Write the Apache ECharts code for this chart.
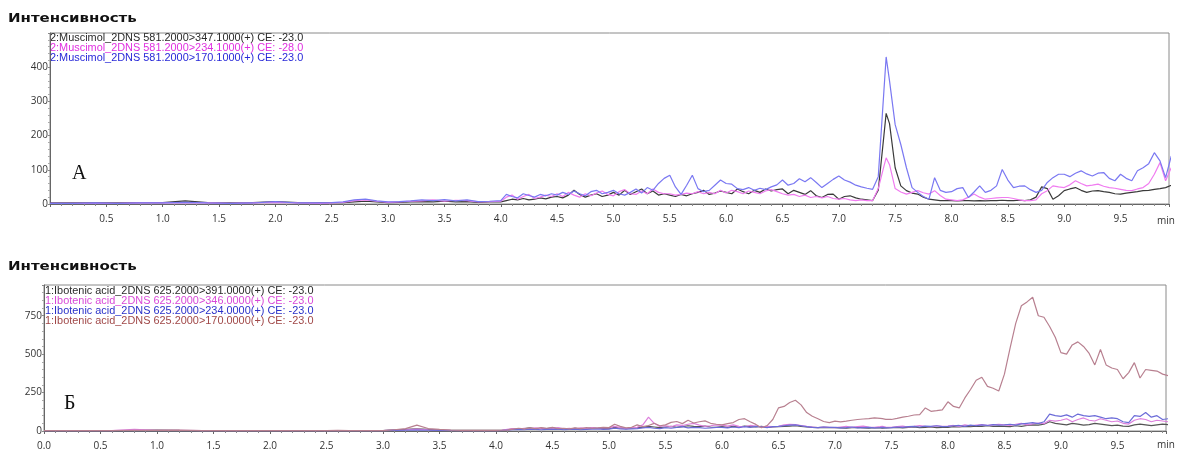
<!DOCTYPE html>
<html>
<head>
<meta charset="utf-8">
<script src="https://cdn.jsdelivr.net/npm/echarts@6/dist/echarts.min.js"></script>
<style>
  html, body { margin: 0; padding: 0; background: #fff; }
  #chart { width: 1183px; height: 452px; }
</style>
</head>
<body>
<div id="chart"></div>
<script>
// retention time, min
const times = [
  0, 0.2, 0.4, 0.6, 0.8, 1.0, 1.2, 1.4, 1.6, 1.8, 2.0, 2.2, 2.4,
  2.5, 2.6, 2.7, 2.8, 2.9, 3.0, 3.1, 3.2, 3.3, 3.4, 3.5, 3.6, 3.7, 3.8, 3.9,
  4.00, 4.05, 4.10, 4.15, 4.20, 4.25, 4.30, 4.35, 4.40, 4.45,
  4.50, 4.55, 4.60, 4.65, 4.70, 4.75, 4.80, 4.85, 4.90, 4.95,
  5.00, 5.05, 5.10, 5.15, 5.20, 5.25, 5.30, 5.35, 5.40, 5.45,
  5.50, 5.55, 5.60, 5.65, 5.70, 5.75, 5.80, 5.85, 5.90, 5.95,
  6.00, 6.05, 6.10, 6.15, 6.20, 6.25, 6.30, 6.35, 6.40, 6.45,
  6.50, 6.55, 6.60, 6.65, 6.70, 6.75, 6.80, 6.85, 6.90, 6.95,
  7.00, 7.05, 7.10, 7.15, 7.20, 7.25, 7.30, 7.35, 7.40, 7.42, 7.45,
  7.50, 7.55, 7.60, 7.65, 7.70, 7.75, 7.80, 7.85, 7.90, 7.95,
  8.00, 8.05, 8.10, 8.15, 8.20, 8.25, 8.30, 8.35, 8.40, 8.45,
  8.50, 8.55, 8.60, 8.65, 8.70, 8.75, 8.80, 8.85, 8.90, 8.95,
  9.00, 9.05, 9.10, 9.15, 9.20, 9.25, 9.30, 9.35, 9.40, 9.45,
  9.50, 9.55, 9.60, 9.65, 9.70, 9.75, 9.80, 9.85, 9.90, 9.95,
  10.00
];

// A: Muscimol_2DNS 581.2
const mus347 = [
  3, 3, 3, 3, 4, 4, 9, 4, 3, 4, 7, 4, 3,
  4, 4, 6, 8, 6, 4, 5, 6, 7, 6, 8, 6, 7, 5, 6,
  6, 10, 14, 12, 16, 12, 14, 18, 15, 20,
  22, 18, 26, 40, 28, 20, 26, 30, 22, 26,
  34, 26, 40, 28, 36, 44, 30, 38, 26, 30,
  26, 22, 28, 24, 30, 34, 40, 28, 32, 38,
  34, 30, 44, 36, 30, 40, 34, 44, 38, 42,
  44, 30, 40, 34, 28, 39, 24, 19, 28, 29,
  14, 22, 24, 18, 14, 12, 10, 40, 200, 265, 235,
  106, 53, 39, 32, 29, 20, 14, 12, 10, 10,
  10, 9, 10, 10, 9, 10, 9, 10, 10, 11,
  10, 10, 11, 10, 12, 20, 50, 45, 14, 24,
  39, 44, 48, 40, 34, 38, 39, 36, 34, 30,
  29, 32, 34, 36, 39, 40, 43, 45, 48, 55,
  68
];
const mus234 = [
  2, 2, 2, 2, 3, 3, 4, 3, 2, 3, 5, 3, 2,
  3, 5, 10, 12, 8, 5, 6, 8, 9, 12, 8, 11, 10, 6, 7,
  8, 20, 26, 14, 22, 28, 16, 20, 26, 22,
  30, 22, 34, 26, 20, 30, 24, 32, 38, 28,
  24, 36, 42, 30, 28, 38, 30, 44, 34, 30,
  30, 26, 28, 32, 30, 36, 30, 34, 30, 40,
  32, 40, 36, 30, 38, 34, 30, 38, 42, 36,
  30, 26, 28, 22, 26, 19, 22, 18, 22, 16,
  14, 16, 12, 10, 12, 10, 10, 45, 110, 135, 115,
  45, 35, 29, 34, 39, 33, 29, 39, 25, 14,
  12, 10, 12, 20, 29, 20, 14, 16, 18, 19,
  19, 16, 12, 10, 10, 12, 30, 39, 53, 50,
  48, 56, 68, 60, 53, 55, 58, 52, 48, 46,
  43, 40, 39, 44, 48, 60, 87, 121, 68, 106,
  77
];
const mus170 = [
  2, 2, 3, 2, 3, 3, 5, 3, 2, 3, 7, 3, 3,
  4, 6, 12, 14, 9, 6, 7, 9, 12, 10, 13, 9, 12, 7, 8,
  10, 28, 22, 18, 30, 25, 20, 28, 24, 30,
  26, 34, 28, 38, 30, 24, 36, 40, 30, 34,
  40, 30, 26, 34, 44, 32, 48, 40, 60, 75,
  84, 50, 28, 55, 84, 45, 36, 40, 55, 70,
  60, 58, 45, 42, 48, 40, 46, 42, 50, 56,
  70, 55, 60, 74, 65, 77, 63, 48, 60, 72,
  82, 70, 64, 55, 50, 46, 43, 80, 330, 430, 360,
  232, 174, 106, 48, 34, 22, 14, 77, 40, 34,
  36, 45, 48, 19, 35, 53, 34, 40, 53, 101,
  70, 48, 52, 53, 42, 34, 40, 63, 77, 87,
  87, 80, 90, 97, 88, 82, 90, 92, 75, 68,
  87, 75, 68, 97, 106, 118, 150, 126, 77, 140,
  140
];

// Б: Ibotenic acid_2DNS 625.2
const ibo391 = [
  3, 3, 3, 3, 4, 6, 4, 3, 3, 3, 3, 3, 3,
  3, 3, 3, 3, 3, 3, 8, 10, 14, 10, 6, 5, 4, 4, 4,
  4, 4, 8, 14, 10, 16, 20, 14, 18, 16,
  20, 14, 16, 12, 18, 14, 16, 20, 18, 16,
  16, 24, 20, 16, 18, 22, 24, 30, 26, 22,
  26, 30, 24, 28, 34, 30, 28, 32, 26, 24,
  28, 24, 30, 26, 32, 28, 26, 30, 24, 26,
  28, 30, 32, 34, 30, 26, 24, 22, 24, 22,
  22, 20, 18, 22, 24, 20, 18, 22, 20, 18, 20,
  22, 24, 20, 24, 26, 22, 24, 26, 22, 24,
  24, 28, 26, 30, 28, 32, 30, 34, 30, 32,
  30, 28, 34, 30, 36, 40, 38, 44, 60, 50,
  45, 40, 50, 45, 38, 42, 50, 45, 40, 35,
  38, 32, 30, 40, 45, 40, 35, 40, 45, 42,
  40
];
const ibo346 = [
  3, 3, 3, 3, 10, 4, 5, 3, 3, 3, 3, 3, 3,
  3, 3, 3, 3, 3, 3, 6, 8, 12, 8, 6, 4, 3, 3, 3,
  3, 4, 10, 16, 12, 18, 14, 20, 15, 12,
  16, 22, 14, 18, 12, 20, 16, 22, 18, 20,
  20, 30, 22, 16, 20, 24, 40, 90, 50, 30,
  34, 28, 40, 36, 44, 50, 38, 30, 34, 40,
  38, 32, 40, 30, 28, 36, 32, 26, 30, 28,
  30, 40, 44, 42, 36, 30, 26, 22, 26, 24,
  22, 26, 30, 24, 28, 32, 26, 24, 28, 30, 26,
  24, 28, 32, 26, 30, 36, 30, 28, 34, 30,
  32, 36, 30, 40, 34, 38, 42, 36, 40, 44,
  40, 36, 44, 50, 40, 46, 52, 48, 70, 64,
  70, 80, 60, 75, 85, 70, 65, 80, 70, 60,
  65, 50, 45, 70, 80, 75, 60, 70, 65, 60,
  62
];
const ibo234 = [
  2, 2, 2, 2, 3, 3, 3, 2, 2, 2, 2, 2, 2,
  2, 2, 2, 2, 2, 2, 4, 5, 6, 5, 4, 3, 2, 2, 2,
  2, 3, 6, 8, 10, 8, 12, 10, 8, 10,
  10, 12, 8, 10, 12, 8, 10, 12, 14, 10,
  12, 18, 14, 12, 14, 16, 20, 24, 18, 16,
  22, 18, 24, 28, 20, 24, 22, 18, 20, 24,
  24, 20, 26, 22, 28, 24, 30, 26, 22, 28,
  30, 34, 38, 40, 34, 28, 24, 22, 26, 24,
  24, 20, 22, 26, 20, 22, 24, 20, 22, 24, 20,
  22, 26, 24, 28, 30, 26, 32, 30, 34, 28,
  30, 34, 36, 30, 38, 34, 40, 36, 42, 38,
  40, 44, 38, 46, 50, 54, 48, 60, 110, 100,
  95, 105, 90, 110, 100, 95, 100, 90, 80, 85,
  80, 60, 55, 100, 95, 120, 90, 100, 75, 80,
  80
];
const ibo170 = [
  3, 3, 3, 3, 5, 4, 6, 3, 3, 3, 3, 3, 3,
  3, 4, 3, 3, 3, 3, 8, 15, 38, 16, 10, 6, 4, 5, 4,
  4, 5, 6, 12, 18, 14, 20, 16, 22, 18,
  24, 16, 18, 14, 20, 16, 22, 18, 20, 24,
  22, 44, 30, 20, 24, 40, 28, 36, 50, 34,
  40, 56, 62, 48, 70, 52, 60, 66, 50, 44,
  40, 48, 55, 75, 80, 60, 43, 21, 35, 75,
  150, 160, 185, 200, 170, 120, 96, 80, 62, 55,
  64, 60, 64, 70, 75, 78, 80, 85, 82, 80, 76,
  75, 82, 90, 96, 104, 107, 150, 128, 132, 138,
  190, 160, 150, 215, 270, 330, 350, 290, 278, 260,
  370, 540, 700, 815, 840, 870, 750, 740, 680, 610,
  510, 500, 560, 580, 550, 505, 430, 530, 430, 410,
  400, 340, 380, 445, 345, 400, 395, 390, 370, 360,
  360
];

const labelsA = [
  '2:Muscimol_2DNS 581.2000>347.1000(+) CE: -23.0',
  '2:Muscimol_2DNS 581.2000>234.1000(+) CE: -28.0',
  '2:Muscimol_2DNS 581.2000>170.1000(+) CE: -23.0'
];
const labelsB = [
  '1:Ibotenic acid_2DNS 625.2000>391.0000(+) CE: -23.0',
  '1:Ibotenic acid_2DNS 625.2000>346.0000(+) CE: -23.0',
  '1:Ibotenic acid_2DNS 625.2000>234.0000(+) CE: -23.0',
  '1:Ibotenic acid_2DNS 625.2000>170.0000(+) CE: -23.0'
];

const textA = ['#2a2a2a', '#e030e0', '#2828d8'];
const lineA = ['#3a3a3a', '#f07cf0', '#7a78f2'];
const textB = ['#2a2a2a', '#d848d8', '#2a30c8', '#a04848'];
const lineB = ['#555555', '#dd80dd', '#6c6cd8', '#b88090'];

[mus347, mus234, mus170, ibo391, ibo346, ibo234, ibo170].forEach((s, i) => {
  if (s.length !== times.length) console.warn('series ' + i + ' length ' + s.length);
});

const pairs = (vals) => times.map((t, i) => [t, vals[i]]);

const tickFont = 'Open Sans, Liberation Sans, sans-serif';
const legendFont = 'Liberation Sans, Arial, sans-serif';

const makeX = (gi, showMin) => ({
  type: 'value',
  gridIndex: gi,
  min: 0,
  max: 9.93,
  interval: 0.5,
  axisLine: { show: true, onZero: false, lineStyle: { color: '#666', width: 1 } },
  axisTick: { show: true, length: 3, lineStyle: { color: '#666' } },
  minorTick: { show: true, splitNumber: 5, length: 2, lineStyle: { color: '#888' } },
  splitLine: { show: false },
  axisLabel: {
    color: '#333', fontSize: 10, fontFamily: tickFont, margin: 10,
    showMinLabel: showMin, showMaxLabel: false,
    formatter: (v) => v.toFixed(1)
  }
});

const makeY = (gi, max, interval) => ({
  type: 'value',
  gridIndex: gi,
  min: 0,
  max: max,
  interval: interval,
  axisLine: { show: true, lineStyle: { color: '#666', width: 1 } },
  axisTick: { show: true, length: 2, lineStyle: { color: '#888' } },
  minorTick: { show: true, splitNumber: 5, length: 2, lineStyle: { color: '#aaa' } },
  splitLine: { show: false },
  axisLabel: {
    color: '#333', fontSize: 10, fontFamily: tickFont, margin: 2,
    showMaxLabel: false
  }
});

const series = [];
[mus347, mus234, mus170].forEach((vals, i) => {
  series.push({
    type: 'line', xAxisIndex: 0, yAxisIndex: 0, showSymbol: false,
    data: pairs(vals), lineStyle: { color: lineA[i], width: 1.2 }, silent: true
  });
});
[ibo391, ibo346, ibo234, ibo170].forEach((vals, i) => {
  series.push({
    type: 'line', xAxisIndex: 1, yAxisIndex: 1, showSymbol: false,
    data: pairs(vals), lineStyle: { color: lineB[i], width: 1.2 }, silent: true
  });
});

const graphics = [
  { type: 'text', x: 8, y: 13, scaleX: 1.25, style: { text: 'Интенсивность', font: 'bold 12px DejaVu Sans', fill: '#111' } },
  { type: 'text', x: 8, y: 261, scaleX: 1.25, style: { text: 'Интенсивность', font: 'bold 12px DejaVu Sans', fill: '#111' } },
  { type: 'text', x: 72, y: 164, style: { text: 'A', font: '20px Liberation Serif', fill: '#111' } },
  { type: 'text', x: 64, y: 394, style: { text: 'Б', font: '20px Liberation Serif', fill: '#111' } },
  { type: 'text', x: 1157, y: 216, style: { text: 'min', font: '10px ' + tickFont, fill: '#333' } },
  { type: 'text', x: 1157, y: 440, style: { text: 'min', font: '10px ' + tickFont, fill: '#333' } }
];
labelsA.forEach((s, i) => {
  graphics.push({ type: 'text', x: 50, y: 33 + i * 10, scaleX: 1.09, style: { text: s, font: '10px ' + legendFont, fill: textA[i] } });
});
labelsB.forEach((s, i) => {
  graphics.push({ type: 'text', x: 45, y: 286 + i * 10, scaleX: 1.09, style: { text: s, font: '10px ' + legendFont, fill: textB[i] } });
});

const chart = echarts.init(document.getElementById('chart'));
chart.setOption({
  backgroundColor: '#fff',
  animation: false,
  grid: [
    { left: 50, top: 33, width: 1119, height: 171, show: true, borderColor: '#8a8a8a', borderWidth: 1, containLabel: false },
    { left: 44, top: 285, width: 1122, height: 146, show: true, borderColor: '#8a8a8a', borderWidth: 1, containLabel: false }
  ],
  xAxis: [makeX(0, false), makeX(1, true)],
  yAxis: [makeY(0, 500, 100), makeY(1, 950, 250)],
  series: series,
  graphic: graphics
});
</script>
</body>
</html>
